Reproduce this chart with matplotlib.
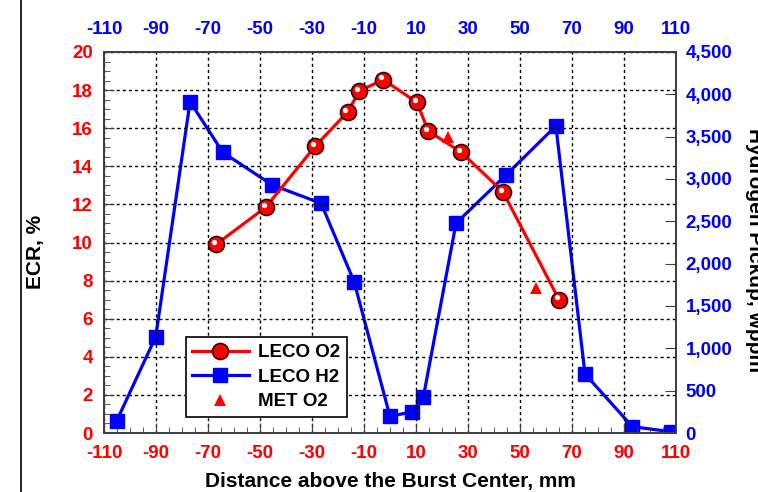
import matplotlib
matplotlib.use("Agg")
import matplotlib.pyplot as plt
from matplotlib.lines import Line2D
from matplotlib.transforms import ScaledTranslation
from matplotlib.ticker import MultipleLocator, FuncFormatter

plt.rcParams["font.family"] = ["Liberation Sans", "DejaVu Sans"]
plt.rcParams["font.weight"] = "bold"
plt.rcParams["axes.unicode_minus"] = False

# LECO O2 (ECR, %)
o2_x = [-66.9, -47.8, -28.8, -16.3, -11.8, -2.6, 10.4, 14.7, 27.3, 43.5, 65.0]
o2_y = [9.9, 11.85, 15.05, 16.85, 17.95, 18.55, 17.35, 15.85, 14.75, 12.65, 7.0]

# LECO H2 (wppm)
h2_x = [-105.1, -90.1, -76.9, -64.3, -45.3, -26.5, -13.8, 0.0, 8.3, 12.8, 25.4, 44.6, 63.8, 75.0, 93.2, 108.0]
h2_y = [145, 1137, 3913, 3315, 2929, 2713, 1787, 195, 250, 420, 2478, 3047, 3626, 697, 75, 15]

# MET O2 (ECR, %)
met_x = [22.3, 56.1]
met_y = [15.55, 7.6]

x_ticks = list(range(-110, 111, 20))

RED = "#ff0000"
BLUE = "#0000ff"

fig = plt.figure(figsize=(7.58, 4.92), dpi=100)
ax = fig.add_axes([104 / 758, 59 / 492, 572 / 758, 381 / 492])
ax2 = ax.twinx()

ax.set_xlim(-110, 110)
ax.set_ylim(0, 20)
ax2.set_ylim(0, 4500)

# blue H2 curve (right axis)
ax2.plot(h2_x, h2_y, "-s", color=BLUE, lw=2.3, ms=10, mec=BLUE, zorder=3)

# red O2 curve with shaded-sphere markers (left axis, drawn on top)
ax.set_zorder(ax2.get_zorder() + 1)
ax.patch.set_visible(False)
ax.plot(o2_x, o2_y, "-", color=RED, lw=2.3, zorder=3)
ax.plot(o2_x, o2_y, "o", color=RED, ms=11.5, mec="#3a0000", mew=1.2, zorder=4)
hl = ax.transData + ScaledTranslation(-2.2 / 100, 2.5 / 100, fig.dpi_scale_trans)
ax.plot(o2_x, o2_y, "o", color="white", ms=3.8, mew=0, transform=hl, zorder=5)
ax.plot(met_x, met_y, "^", color=RED, ms=9, mew=0, zorder=4)

# grid
ax.set_xticks(x_ticks)
ax.yaxis.set_major_locator(MultipleLocator(2))
ax.yaxis.set_minor_locator(MultipleLocator(0.5))
ax.xaxis.set_minor_locator(MultipleLocator(5))
ax.grid(True, which="major", color="black", ls=(0, (2.2, 2.2)), lw=1.0)

ax2.yaxis.set_major_locator(MultipleLocator(500))
ax2.yaxis.set_major_formatter(FuncFormatter(lambda v, p: f"{v:,.0f}"))

TS = 13.5
ax.tick_params(axis="x", which="major", direction="in", length=7, pad=9,
               labelsize=TS, labelcolor=RED, color="#404040")
ax.tick_params(axis="x", which="minor", direction="in", length=4, color="#404040")
ax.tick_params(axis="y", which="major", direction="in", length=7, pad=8,
               labelsize=TS, labelcolor=RED, color="#404040")
ax.tick_params(axis="y", which="minor", direction="in", length=4, color="#404040")
ax2.tick_params(axis="y", direction="in", length=8, pad=7,
                labelsize=TS, labelcolor=BLUE, color="#404040")

top = ax.secondary_xaxis("top")
top.set_xticks(x_ticks)
top.tick_params(direction="in", length=0, pad=10, labelsize=TS, labelcolor=BLUE)

for a in (ax, ax2):
    for s in a.spines.values():
        s.set_color("#404040")
        s.set_linewidth(1.3)
for s in top.spines.values():
    s.set_color("#404040")
    s.set_linewidth(1.3)

for lab in ax.get_xticklabels() + ax.get_yticklabels() + ax2.get_yticklabels() + top.get_xticklabels():
    lab.set_fontweight("bold")

ax.set_xlabel("Distance above the Burst Center, mm", fontsize=15, fontweight="bold", labelpad=7)
fig.text(36 / 758, 240 / 492, "ECR, %", rotation=90, ha="center", va="center",
         fontsize=15, fontweight="bold")
fig.text(745 / 758, 242 / 492, "Hydrogen Pickup, wppm", rotation=270, ha="left", va="center",
         fontsize=15, fontweight="bold")

# left border line of the original frame
fig.add_artist(Line2D([21 / 758, 21 / 758], [0, 1], transform=fig.transFigure,
                      color="black", lw=1.2))

handles = [
    Line2D([], [], color=RED, lw=2.3, marker="o", ms=11.5, mfc=RED, mec="#3a0000", mew=1.2),
    Line2D([], [], color=BLUE, lw=2.3, marker="s", ms=10, mfc=BLUE, mec=BLUE),
    Line2D([], [], color=RED, lw=0, marker="^", ms=9, mew=0),
]
leg = ax.legend(handles, ["LECO O2", "LECO H2", "MET O2"], loc="lower left",
                bbox_to_anchor=(0.143, 0.042), prop={"size": 13.5, "weight": "bold"},
                frameon=True, fancybox=False, edgecolor="black", framealpha=1,
                borderpad=0.35, labelspacing=0.4, handlelength=3.0, handletextpad=0.5,
                borderaxespad=0)
leg.get_frame().set_linewidth(1.2)
leg.set_zorder(10)

fig.savefig("out.png", dpi=100)
